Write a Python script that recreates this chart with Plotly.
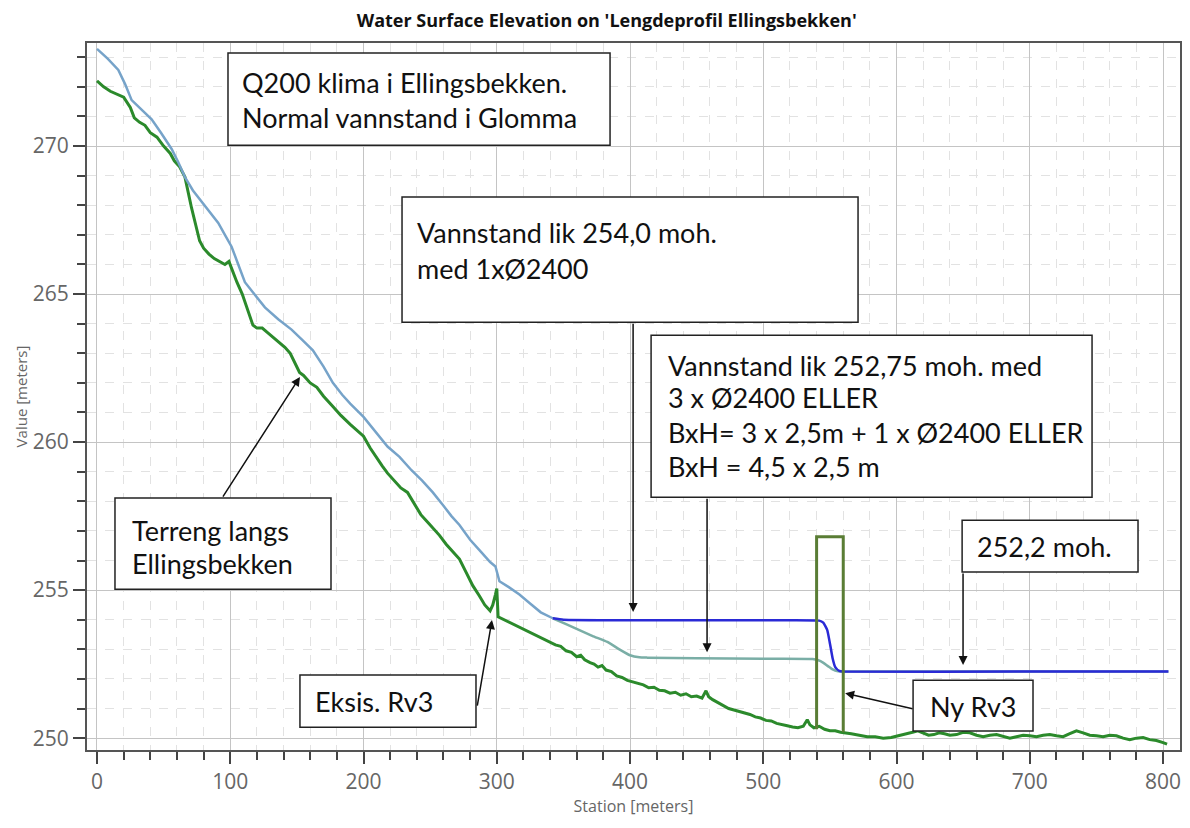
import plotly.graph_objects as go

# ---------------- data ----------------
terrain_x = [0, 5, 10, 15, 20, 25, 28, 32, 36, 40, 45, 50, 55, 58, 62, 66, 68, 71, 74, 77,
             80, 84, 88, 92, 96, 99, 101, 105, 109, 113, 117, 120, 124, 128, 132, 136, 141, 145,
             149, 152, 155, 160, 165, 170, 177, 183, 190, 195, 200, 205, 210, 214, 218, 223,
             228, 233, 238, 243, 248, 252, 257, 262, 267, 272, 277, 282, 287, 291, 295, 297,
             299, 300, 301, 310, 320, 330, 340, 344, 348, 352, 356, 360, 363, 366, 370, 373,
             376, 379, 382, 386, 390, 394, 398, 402, 406, 410, 414, 418, 422, 426, 430, 434,
             438, 442, 446, 450, 454, 457, 459, 462, 466, 470, 474, 478, 482, 486, 490, 494,
             498, 502, 506, 510, 514, 518, 522, 526, 530, 533, 535, 538, 542, 546, 550, 554,
             558, 562, 566, 572, 578, 584, 590, 596, 602, 608, 612, 616, 620, 624, 628, 632,
             636, 640, 645, 650, 655, 660, 665, 670, 675, 680, 685, 690, 695, 700, 705, 710,
             715, 720, 725, 730, 735, 740, 745, 750, 755, 760, 765, 770, 775, 780, 785, 790,
             795, 800, 803]
terrain_y = [272.2, 272.0, 271.85, 271.75, 271.65, 271.3, 270.95, 270.8, 270.7, 270.45, 270.3,
             270.0, 269.75, 269.5, 269.3, 268.95, 268.5, 267.9, 267.35, 266.8, 266.55, 266.35,
             266.2, 266.1, 266.0, 266.1, 265.85, 265.4, 265.0, 264.5, 263.95, 263.85, 263.85,
             263.7, 263.55, 263.4, 263.2, 263.0, 262.65, 262.35, 262.25, 262.0, 261.85, 261.55,
             261.2, 260.9, 260.6, 260.4, 260.2, 259.8, 259.45, 259.2, 258.95, 258.7, 258.45,
             258.3, 257.9, 257.55, 257.3, 257.1, 256.85, 256.55, 256.3, 256.05, 255.6, 255.15,
             254.8, 254.5, 254.3, 254.5, 254.85, 255.05, 254.1, 253.9, 253.7, 253.45, 253.25,
             253.15, 253.1, 252.95, 252.9, 252.75, 252.8, 252.65, 252.55, 252.5, 252.4, 252.45,
             252.3, 252.25, 252.1, 252.05, 251.95, 251.9, 251.85, 251.8, 251.7, 251.72, 251.62,
             251.6, 251.52, 251.55, 251.45, 251.5, 251.4, 251.42, 251.35, 251.6, 251.4, 251.3,
             251.2, 251.1, 251.0, 250.95, 250.9, 250.85, 250.8, 250.72, 250.68, 250.6, 250.58,
             250.5, 250.45, 250.42, 250.38, 250.35, 250.4, 250.62, 250.45, 250.35, 250.4, 250.3,
             250.25, 250.25, 250.2, 250.18, 250.15, 250.1, 250.05, 250.05, 250.0, 250.02, 250.08,
             250.15, 250.2, 250.25, 250.18, 250.1, 250.12, 250.18, 250.15, 250.1, 250.12, 250.2,
             250.18, 250.1, 250.05, 250.1, 250.12, 250.05, 250.0, 250.05, 250.1, 250.08, 250.05,
             250.1, 250.12, 250.08, 250.05, 250.15, 250.25, 250.18, 250.1, 250.08, 250.05, 250.1,
             250.08, 250.0, 249.95, 250.0, 250.02, 249.95, 249.92, 249.85, 249.8]

ws_upper_x = [0, 8, 16, 21, 26, 33, 41, 48, 56, 61, 66, 72, 79, 85, 91, 96, 101, 106, 111, 118,
              126, 136, 146, 154, 162, 170, 177, 184, 190, 200, 210, 218, 227, 236, 244, 252,
              260, 266, 272, 280, 288, 295, 299, 302, 309, 317, 325, 333, 342]
ws_upper_y = [273.28, 272.95, 272.57, 272.1, 271.55, 271.25, 270.9, 270.45, 269.9, 269.45,
              268.95, 268.5, 268.1, 267.75, 267.4, 267.0, 266.6, 266.0, 265.4, 265.0, 264.55,
              264.15, 263.8, 263.45, 263.1, 262.55, 262.0, 261.6, 261.3, 260.85, 260.3, 259.85,
              259.5, 259.05, 258.7, 258.3, 257.85, 257.5, 257.2, 256.7, 256.3, 255.95, 255.8,
              255.3, 255.1, 254.85, 254.55, 254.25, 254.05]

ws_3x2400_x = [342, 352, 362, 372, 383, 392, 400, 407, 413, 450, 500, 537, 543, 548, 552, 556,
               600, 700, 804]
ws_3x2400_y = [254.05, 253.85, 253.65, 253.45, 253.25, 253.0, 252.8, 252.73, 252.72, 252.7,
               252.68, 252.67, 252.6, 252.45, 252.32, 252.26, 252.25, 252.25, 252.25]

ws_1x2400_x = [342, 350, 400, 500, 542, 545, 548, 550, 552, 554, 557, 560, 700, 804]
ws_1x2400_y = [254.05, 254.0, 253.98, 253.98, 253.97, 253.9, 253.65, 253.2, 252.7, 252.4,
               252.27, 252.25, 252.25, 252.25]

culvert_x = [540, 540, 560, 560]
culvert_y = [250.3, 256.8, 256.8, 250.2]

x_ticks = [0, 100, 200, 300, 400, 500, 600, 700, 800]
y_ticks = [250, 255, 260, 265, 270]

title_text = "Water Surface Elevation on 'Lengdeprofil Ellingsbekken'"
x_title = "Station [meters]"
y_title = "Value [meters]"

# text boxes: (x0, x1, y0, y1) in data units, and text lines (x, y, text)
boxes = [
    (98.3, 385.0, 270.03, 273.14),
    (228.9, 571.1, 264.05, 268.28),
    (415.8, 746.7, 258.14, 263.61),
    (649.2, 781.2, 255.61, 257.36),
    (13.5, 175.6, 255.03, 258.11),
    (152.3, 284.4, 250.37, 252.13),
    (612.4, 702.4, 250.24, 251.96),
]
box_lines = [
    (107.3, 272.16, "Q200 klima i Ellingsbekken."),
    (107.3, 270.95, "Normal vannstand i Glomma"),
    (238.6, 267.09, "Vannstand lik 254,0 moh."),
    (238.6, 265.88, "med 1xØ2400"),
    (427.0, 262.60, "Vannstand lik 252,75 moh. med"),
    (427.0, 261.49, "3 x Ø2400 ELLER"),
    (427.0, 260.34, "BxH= 3 x 2,5m + 1 x Ø2400 ELLER"),
    (427.0, 259.19, "BxH = 4,5 x 2,5 m"),
    (658.9, 256.49, "252,2 moh."),
    (24.8, 257.03, "Terreng langs"),
    (24.8, 255.91, "Ellingsbekken"),
    (162.1, 251.25, "Eksis. Rv3"),
    (623.6, 251.08, "Ny Rv3"),
]
# arrows: (tail_x, tail_y, head_x, head_y)
arrows = [
    (402.3, 264.05, 402.3, 254.26),
    (457.8, 258.14, 457.8, 252.90),
    (649.9, 255.61, 649.9, 252.47),
    (93.8, 258.11, 152.3, 262.20),
    (285.2, 251.05, 296.4, 253.99),
    (613.1, 250.98, 561.4, 251.52),
]

# ---------------- figure ----------------
fig = go.Figure()
fig.add_trace(go.Scatter(x=terrain_x, y=terrain_y, mode="lines",
                         line=dict(color="#2b8a2b", width=3), name="Terreng"))
fig.add_trace(go.Scatter(x=ws_upper_x, y=ws_upper_y, mode="lines",
                         line=dict(color="#76a3c9", width=2.5), name="WS"))
fig.add_trace(go.Scatter(x=ws_3x2400_x, y=ws_3x2400_y, mode="lines",
                         line=dict(color="#7aaea6", width=2.5, shape="spline", smoothing=0.4),
                         name="WS 3x2400"))
fig.add_trace(go.Scatter(x=ws_1x2400_x, y=ws_1x2400_y, mode="lines",
                         line=dict(color="#2a2ad6", width=2.5, shape="spline", smoothing=0.4),
                         name="WS 1x2400"))
fig.add_trace(go.Scatter(x=culvert_x, y=culvert_y, mode="lines",
                         line=dict(color="#5a7d35", width=3), name="Rv3"))

shapes = []
for (x0, x1, y0, y1) in boxes:
    shapes.append(dict(type="rect", xref="x", yref="y", x0=x0, x1=x1, y0=y0, y1=y1,
                       line=dict(color="#222222", width=1.5), fillcolor="white", layer="above"))

annotations = []
for (tx, ty, hx, hy) in arrows:
    annotations.append(dict(x=hx, y=hy, ax=tx, ay=ty, xref="x", yref="y", axref="x", ayref="y",
                            text="", showarrow=True, arrowhead=2, arrowsize=1.2, arrowwidth=1.5,
                            arrowcolor="#111111", standoff=0, startstandoff=0))
for (x, y, t) in box_lines:
    annotations.append(dict(x=x, y=y, xref="x", yref="y", text=t, showarrow=False,
                            xanchor="left", yanchor="middle",
                            font=dict(family="Lato", size=27, color="#111111")))

fig.update_layout(
    width=1174, height=812,
    margin=dict(l=79, r=2, t=35, b=70, autoexpand=False),
    paper_bgcolor="white", plot_bgcolor="white",
    showlegend=False,
    title=dict(text="<b>" + title_text + "</b>", x=0.510, xref="container", xanchor="center",
               y=0.984, yref="container", yanchor="middle",
               font=dict(family="Open Sans", size=18, color="#111111")),
    shapes=shapes, annotations=annotations,
)
fig.update_xaxes(
    range=[-7.5, 812.7], tickvals=x_ticks, ticks="outside", ticklen=12, tickwidth=2,
    tickcolor="#444444", showline=True, mirror=True, linecolor="#555555", linewidth=2,
    showgrid=True, gridcolor="#c4c4c4", gridwidth=1, zeroline=False, automargin=False,
    tickfont=dict(family="Open Sans", size=21, color="#666666"),
    title=dict(text=x_title, font=dict(family="Open Sans", size=16, color="#666666"), standoff=0),
    minor=dict(dtick=20, tick0=0, ticks="outside", ticklen=8, tickwidth=2, tickcolor="#444444",
               showgrid=True, gridcolor="#e2e2e2", griddash="dash", gridwidth=1),
)
fig.update_yaxes(
    range=[249.6, 273.48], tickvals=y_ticks, ticks="outside", ticklen=12, tickwidth=2,
    tickcolor="#444444", showline=True, mirror=True, linecolor="#555555", linewidth=2,
    showgrid=True, gridcolor="#c4c4c4", gridwidth=1, zeroline=False, automargin=False,
    tickfont=dict(family="Open Sans", size=21, color="#666666"),
    title=dict(text=y_title, font=dict(family="Open Sans", size=15, color="#666666"), standoff=2),
    minor=dict(dtick=1, tick0=250, ticks="outside", ticklen=8, tickwidth=2, tickcolor="#444444",
               showgrid=True, gridcolor="#e2e2e2", griddash="dash", gridwidth=1),
)

fig.write_html("out.html")
